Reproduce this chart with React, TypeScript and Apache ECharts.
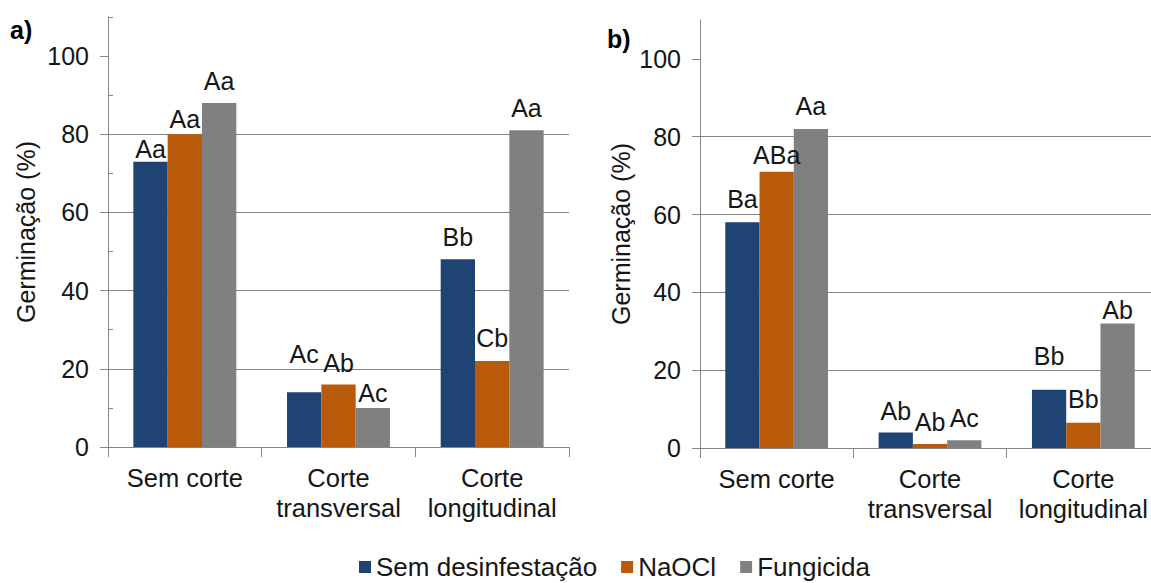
import React, { useEffect, useRef } from "react";
import * as echarts from "echarts";

const categories = ["Sem corte", "Corte\ntransversal", "Corte\nlongitudinal"];
const seriesNames = ["Sem desinfestação", "NaOCl", "Fungicida"];
const yTicks = [0, 20, 40, 60, 80, 100];
const yMinorTicks = [10, 30, 50, 70, 90, 110];

// Panel a)
const aSemDesinf = [73, 14, 48];
const aNaOCl = [80, 16, 22];
const aFungicida = [88, 10, 81];
const aLettersSem = ["Aa", "Ac", "Bb"];
const aLettersNaOCl = ["Aa", "Ab", "Cb"];
const aLettersFung = ["Aa", "Ac", "Aa"];

// Panel b)
const bSemDesinf = [58, 4, 15];
const bNaOCl = [71, 1, 6.5];
const bFungicida = [82, 2, 32];
const bLettersSem = ["Ba", "Ab", "Bb"];
const bLettersNaOCl = ["ABa", "Ab", "Bb"];
const bLettersFung = ["Aa", "Ac", "Ab"];

// label lift above each bar (layout only)
const liftA = [[0, 26, 9.5], [3, 9, 10.5], [10, 2, 9.5]];
const liftB = [[10.5, 9, 21.5], [4.5, 10, 11], [10, 10, 1]];

const colors = ["#1F4373", "#B85A0A", "#808080"];
const gridColor = "#868686";
const textColor = "#161616";
const FONT = "Liberation Sans, Arial, sans-serif";

export default function App() {
  const ref = useRef<HTMLDivElement>(null);

  useEffect(() => {
    if (!ref.current) return;
    const chart = echarts.init(ref.current, undefined, { renderer: "svg" });

    const xAxisFor = (gi: number) => ({
      type: "category",
      gridIndex: gi,
      data: categories,
      axisLine: { show: true, lineStyle: { color: gridColor, width: 1 } },
      axisTick: { show: true, length: 10, lineStyle: { color: gridColor } },
      axisLabel: {
        color: textColor,
        fontSize: 25.5,
        fontFamily: FONT,
        lineHeight: 30,
        margin: 16,
        interval: 0,
      },
      splitLine: { show: false },
    });

    const yAxisMain = (gi: number, gap: number) => ({
      type: "value",
      gridIndex: gi,
      min: 0,
      max: 110,
      interval: 20,
      position: "left",
      name: "Germinação (%)",
      nameLocation: "middle",
      nameGap: gap,
      nameTextStyle: { color: textColor, fontSize: 25, fontFamily: FONT },
      axisLine: { show: true, lineStyle: { color: gridColor, width: 1 } },
      axisTick: {
        show: true,
        length: 8,
        lineStyle: { color: gridColor },
        customValues: yTicks,
      },
      axisLabel: {
        color: textColor,
        fontSize: 25,
        fontFamily: FONT,
        margin: 19,
        customValues: yTicks,
        formatter: (v: number) => (v > 100 ? "" : String(v)),
      },
      splitLine: {
        show: true,
        showMaxLine: false,
        lineStyle: { color: gridColor, width: 1 },
      },
    });

    const yAxisMinor = (gi: number, showTicks: boolean) => ({
      type: "value",
      gridIndex: gi,
      min: 0,
      max: 110,
      interval: 10,
      position: "left",
      offset: 0,
      axisLine: { show: false },
      axisTick: {
        show: showTicks,
        inside: true,
        length: 5,
        lineStyle: { color: gridColor },
        customValues: yMinorTicks,
      },
      axisLabel: { show: false },
      splitLine: { show: false },
    });

    const mkSeries = (
      name: string,
      values: number[],
      letters: string[],
      lifts: number[],
      color: string,
      gi: number
    ) => ({
      type: "bar",
      name,
      xAxisIndex: gi,
      yAxisIndex: gi * 2,
      barGap: "0%",
      barCategoryGap: "33%",
      itemStyle: { color },
      data: values.map((v, i) => ({
        value: v,
        label: { distance: lifts[i] },
      })),
      label: {
        show: true,
        position: "top",
        color: textColor,
        fontSize: 25,
        lineHeight: 25,
        fontFamily: FONT,
        formatter: (p: any) => letters[p.dataIndex],
      },
    });

    chart.setOption({
      animation: false,
      backgroundColor: "#ffffff",
      textStyle: { fontFamily: FONT },
      color: colors,
      grid: [
        { left: 108, top: 17, width: 461, bottom: 136, containLabel: false, outerBoundsMode: "none" },
        { left: 700, top: 20, width: 460, bottom: 135, containLabel: false, outerBoundsMode: "none" },
      ],
      xAxis: [xAxisFor(0), xAxisFor(1)],
      yAxis: [yAxisMain(0, 70), yAxisMinor(0, true), yAxisMain(1, 67), yAxisMinor(1, false)],
      legend: {
        show: true,
        data: seriesNames,
        left: 359,
        top: 553,
        padding: 0,
        icon: "rect",
        itemWidth: 12,
        itemHeight: 12,
        itemGap: 24,
        textStyle: { color: textColor, fontSize: 26, fontFamily: FONT, lineHeight: 28 },
      },
      graphic: [
        {
          type: "text",
          left: 10,
          top: 17,
          style: { text: "a)", fontSize: 25, fontWeight: "bold", fill: "#000", fontFamily: FONT },
        },
        {
          type: "text",
          left: 607,
          top: 26,
          style: { text: "b)", fontSize: 25, fontWeight: "bold", fill: "#000", fontFamily: FONT },
        },
      ],
      series: [
        mkSeries(seriesNames[0], aSemDesinf, aLettersSem, liftA[0], colors[0], 0),
        mkSeries(seriesNames[1], aNaOCl, aLettersNaOCl, liftA[1], colors[1], 0),
        mkSeries(seriesNames[2], aFungicida, aLettersFung, liftA[2], colors[2], 0),
        mkSeries(seriesNames[0], bSemDesinf, bLettersSem, liftB[0], colors[0], 1),
        mkSeries(seriesNames[1], bNaOCl, bLettersNaOCl, liftB[1], colors[1], 1),
        mkSeries(seriesNames[2], bFungicida, bLettersFung, liftB[2], colors[2], 1),
      ],
    });

    return () => chart.dispose();
  }, []);

  return (
    <div
      ref={ref}
      style={{ position: "absolute", left: 0, top: 0, width: 1151, height: 583, background: "#fff" }}
    />
  );
}
